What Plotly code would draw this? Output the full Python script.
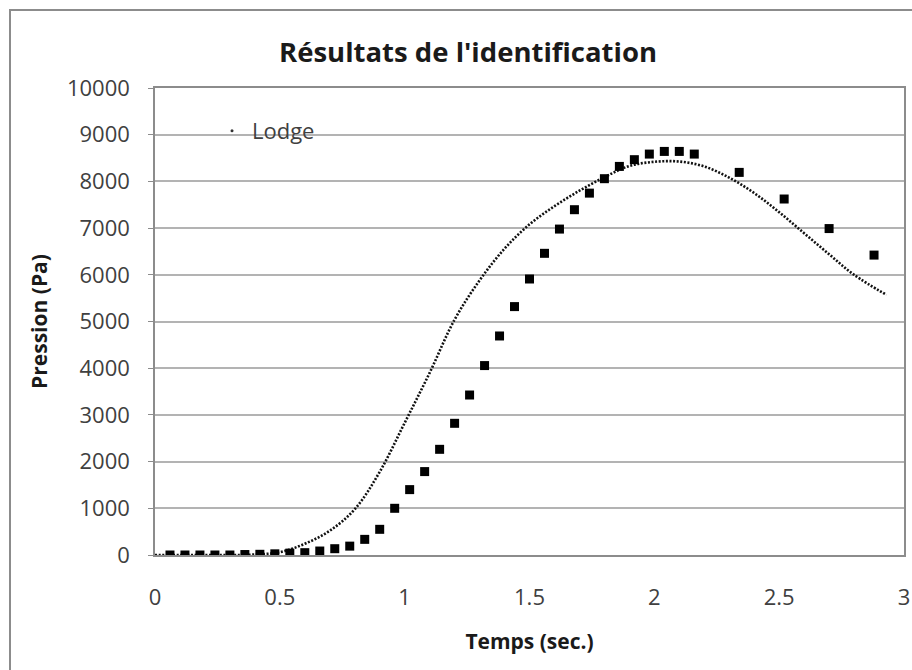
import plotly.graph_objects as go

# Measured data (squares)
t_mesure = [0.06, 0.12, 0.18, 0.24, 0.30, 0.36, 0.42, 0.48, 0.54, 0.60,
            0.66, 0.72, 0.78, 0.84, 0.90, 0.96, 1.02, 1.08, 1.14, 1.20,
            1.26, 1.32, 1.38, 1.44, 1.50, 1.56, 1.62, 1.68, 1.74, 1.80,
            1.86, 1.92, 1.98, 2.04, 2.10, 2.16, 2.34, 2.52, 2.70, 2.88]
p_mesure = [0, 0, 0, 0, 0, 10, 15, 25, 40, 50,
            85, 135, 190, 335, 550, 1000, 1400, 1786, 2263, 2820,
            3426, 4056, 4690, 5319, 5910, 6460, 6979, 7394, 7749, 8058,
            8321, 8465, 8585, 8642, 8642, 8585, 8193, 7623, 6990, 6422]

# Lodge model curve
t_lodge = [0.0, 0.1, 0.2, 0.3, 0.4, 0.5, 0.6, 0.7, 0.8, 0.9,
           1.0, 1.1, 1.2, 1.3, 1.4, 1.5, 1.6, 1.7, 1.8, 1.9,
           2.0, 2.1, 2.2, 2.3, 2.4, 2.5, 2.6, 2.7, 2.8, 2.93]
p_lodge = [0, 0, 0, 0, 10, 60, 240, 520, 980, 1780,
           2830, 3900, 5040, 5880, 6560, 7080, 7470, 7800, 8090, 8330,
           8420, 8425, 8320, 8080, 7750, 7340, 6890, 6440, 6000, 5570]

x_ticks = [0, 0.5, 1, 1.5, 2, 2.5, 3]
x_labels = ["0", "0.5", "1", "1.5", "2", "2.5", "3"]
y_ticks = [0, 1000, 2000, 3000, 4000, 5000, 6000, 7000, 8000, 9000, 10000]
y_labels = [str(v) for v in y_ticks]

FONT = "Open Sans"
TICKCOL = "#404040"
GRID = "#b3b3b3"

L, R, T, B = 155, 8, 88, 115
PW = 912 - L - R
PH = 670 - T - B

fig = go.Figure()

fig.add_trace(go.Scatter(
    x=t_lodge, y=p_lodge, mode="lines", name="Lodge",
    line=dict(color="#111111", width=2.6, dash="2px,1.6px", shape="spline", smoothing=1.0),
    showlegend=False, hoverinfo="skip"))

fig.add_trace(go.Scatter(
    x=t_mesure, y=p_mesure, mode="markers", name="Mesures",
    marker=dict(symbol="square", size=9, color="#000000"),
    showlegend=False))

# legend entry for Lodge (dot symbol as in the original)
fig.add_trace(go.Scatter(
    x=[None], y=[None], mode="markers", name="Lodge",
    marker=dict(symbol="circle", size=3, color="#333333"),
    showlegend=True))

fig.update_layout(
    width=912, height=670,
    margin=dict(l=L, r=R, t=T, b=B, autoexpand=False),
    paper_bgcolor="white", plot_bgcolor="white",
    font=dict(family=FONT, color=TICKCOL),
    title=dict(text="<b>Résultats de l'identification</b>",
               font=dict(family=FONT, size=27.5, color="#1a1a1a"),
               x=(468 - L) / PW, xref="paper", xanchor="center",
               y=1 - 52 / 670, yref="container", yanchor="middle"),
    xaxis=dict(range=[0, 3], tickvals=x_ticks, ticktext=x_labels,
               showgrid=False, zeroline=False, automargin=False,
               showline=True, linecolor="#8c8c8c", linewidth=1.5, mirror=True,
               ticks="", ticklabelstandoff=22,
               tickfont=dict(family=FONT, size=22, color=TICKCOL),
               title=dict(text="<b>Temps (sec.)</b>", standoff=24,
                          font=dict(family=FONT, size=21, color="#1a1a1a"))),
    yaxis=dict(range=[0, 10000], tickvals=y_ticks, ticktext=y_labels,
               showgrid=True, gridcolor=GRID, gridwidth=1.5, zeroline=False,
               automargin=False,
               showline=True, linecolor="#8c8c8c", linewidth=1.5, mirror=True,
               ticks="outside", ticklen=5, tickcolor="#8c8c8c",
               ticklabelstandoff=14,
               tickfont=dict(family=FONT, size=22, color=TICKCOL),
               title=dict(text="<b>Pression (Pa)</b>", standoff=14,
                          font=dict(family=FONT, size=21, color="#1a1a1a"))),
    legend=dict(x=(212 - L) / PW, y=(PH - (110 - T)) / PH, xanchor="left", yanchor="top",
                bgcolor="rgba(0,0,0,0)", font=dict(family=FONT, size=22, color=TICKCOL),
                itemwidth=30),
    shapes=[dict(type="rect", xref="paper", yref="paper",
                 x0=(10 - L) / PW, x1=(916 - L) / PW,
                 y0=(PH + T - 676) / PH, y1=(PH + T - 10) / PH,
                 line=dict(color="#8c8c8c", width=2), fillcolor="rgba(0,0,0,0)",
                 layer="below")],
)

fig.write_html("out.html",
               config={"displayModeBar": False},
               post_script="document.body.style.margin='0';document.body.style.padding='0';")
